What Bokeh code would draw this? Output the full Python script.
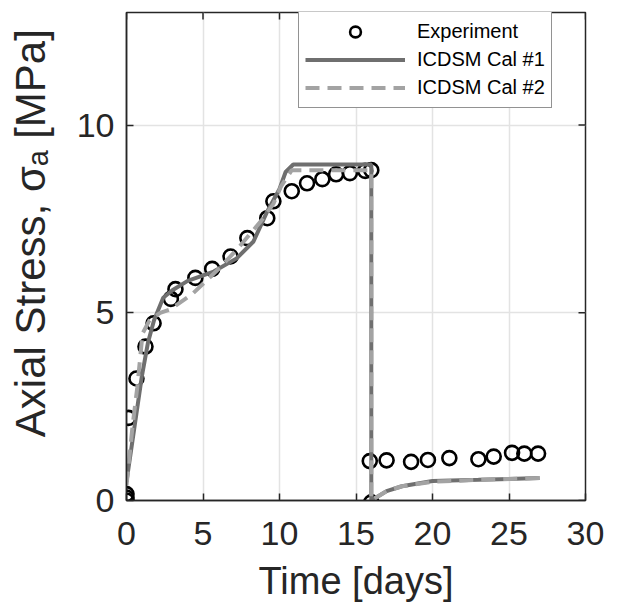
import math
from bokeh.plotting import figure
from bokeh.models import Range1d, FixedTicker, Legend, LegendItem
from bokeh.embed import file_html
from bokeh.resources import INLINE

# ---- data ----
exp_time = [0.0, 0.0, 0.0, 0.13, 0.65, 1.24, 1.77, 2.9, 3.2, 4.5, 5.6, 6.8, 7.9, 9.2, 9.6,
            10.8, 11.8, 12.8, 13.7, 14.6, 15.6, 16.0, 16.0, 15.9, 17.0, 18.6, 19.7, 21.1,
            23.0, 24.0, 25.2, 26.0, 26.9]
exp_stress = [0.0, 0.08, 0.17, 2.2, 3.25, 4.1, 4.72, 5.37, 5.63, 5.93, 6.17, 6.5, 6.99, 7.52, 7.97,
              8.24, 8.45, 8.56, 8.69, 8.72, 8.78, 8.8, -0.05, 1.05, 1.07, 1.03, 1.08, 1.13,
              1.1, 1.17, 1.27, 1.25, 1.25]

cal1_time = [0.0, 0.5, 1.0, 1.4, 1.8, 2.4, 3.0, 4.0, 5.7, 7.2, 8.3, 9.2, 10.0, 10.4, 10.9,
             16.0, 16.0, 17.0, 18.0, 20.0, 23.0, 27.0]
cal1_stress = [0.5, 1.9, 3.3, 4.2, 4.8, 5.4, 5.6, 5.85, 6.1, 6.45, 6.9, 7.7, 8.3, 8.75, 8.95,
               8.95, 0.0, 0.25, 0.38, 0.52, 0.55, 0.6]

cal2_time = [0.0, 0.4, 0.7, 1.05, 1.5, 2.2, 2.9, 4.3, 6.1, 7.25, 8.8, 9.6, 10.1, 10.8,
             16.0, 16.0, 17.0, 18.0, 20.0, 23.0, 27.0]
cal2_stress = [0.4, 2.0, 3.0, 4.45, 4.8, 5.0, 5.1, 5.5, 6.2, 6.7, 7.45, 7.9, 8.37, 8.8,
               8.8, 0.0, 0.25, 0.38, 0.5, 0.55, 0.6]

x_ticks = [0, 5, 10, 15, 20, 25, 30]
y_ticks = [0, 5, 10]
x_lim = [0, 30]
y_lim = [0, 13]

FONT = "Liberation Sans"
TXT = "#262626"

p = figure(width=610, height=606, x_range=Range1d(*x_lim), y_range=Range1d(*y_lim),
           output_backend="svg", toolbar_location=None,
           min_border_left=126, min_border_top=12, min_border_right=25, min_border_bottom=106)

p.background_fill_color = "white"
p.border_fill_color = "white"
p.outline_line_color = TXT
p.outline_line_width = 1.5

# grid
for g in (p.xgrid[0], p.ygrid[0]):
    g.grid_line_color = "#e3e3e3"
    g.grid_line_width = 1.5
p.xgrid[0].ticker = FixedTicker(ticks=x_ticks)
p.ygrid[0].ticker = FixedTicker(ticks=y_ticks)

def style_axis(ax, ticks):
    ax.ticker = FixedTicker(ticks=ticks)
    ax.axis_line_color = TXT
    ax.axis_line_width = 1.5
    ax.major_tick_in = 7
    ax.major_tick_out = 0
    ax.major_tick_line_color = TXT
    ax.major_tick_line_width = 1.5
    ax.minor_tick_line_color = None
    ax.major_label_text_font = FONT
    ax.major_label_text_color = TXT
    ax.major_label_text_font_size = "34px"
    ax.axis_label_text_font = FONT
    ax.axis_label_text_color = TXT
    ax.axis_label_text_font_style = "normal"

style_axis(p.xaxis[0], x_ticks)
style_axis(p.yaxis[0], y_ticks)
p.xaxis[0].axis_label = "Time [days]"
p.xaxis[0].axis_label_text_font_size = "38px"
p.yaxis[0].axis_label = "\u00a0\u00a0\u00a0\u00a0Axial Stress, σₐ [MPa]"
p.yaxis[0].axis_label_text_font_size = "42px"
p.xaxis[0].major_label_standoff = 21
p.yaxis[0].major_label_standoff = 12
p.xaxis[0].axis_label_standoff = 12
p.yaxis[0].axis_label_standoff = 20

# tick marks on top and right edges (MATLAB box style), pointing inward
p.scatter(x_ticks, [y_lim[1]] * len(x_ticks), marker="dash", angle=math.pi / 2, size=14,
          line_color=TXT, line_width=1.5)
p.scatter([x_lim[1]] * len(y_ticks), y_ticks, marker="dash", size=14,
          line_color=TXT, line_width=1.5)

# data
r_exp = p.scatter(exp_time, exp_stress, marker="circle", size=14, fill_color=None,
                  line_color="black", line_width=2.6)
r_c1 = p.line(cal1_time, cal1_stress, line_color="#6f6f6f", line_width=4)
r_c2 = p.line(cal2_time, cal2_stress, line_color="#a3a3a3", line_width=4, line_dash="14 8")

legend = Legend(items=[LegendItem(label="Experiment", renderers=[r_exp]),
                       LegendItem(label="ICDSM Cal #1", renderers=[r_c1]),
                       LegendItem(label="ICDSM Cal #2", renderers=[r_c2])],
                location=(172, 392))
legend.border_line_color = TXT
legend.border_line_width = 1.5
legend.background_fill_color = "white"
legend.background_fill_alpha = 1.0
legend.label_text_font = FONT
legend.label_text_font_size = "20px"
legend.label_text_color = "black"
legend.glyph_width = 100
legend.glyph_height = 27
legend.label_height = 27
legend.label_standoff = 12
legend.padding = 6
legend.spacing = 1
legend.margin = 0
p.add_layout(legend)

open("out.html", "w").write(file_html(p, INLINE))
